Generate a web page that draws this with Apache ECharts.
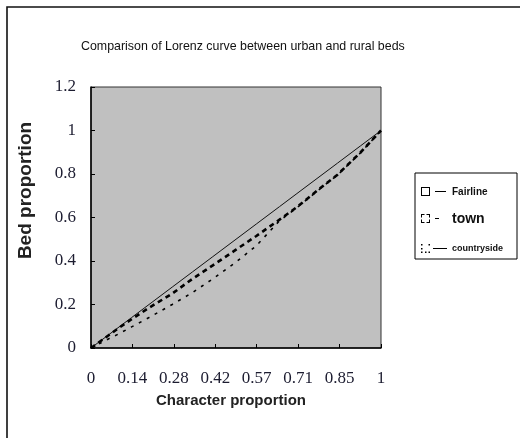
<!DOCTYPE html>
<html>
<head>
<meta charset="utf-8">
<script src="https://cdn.jsdelivr.net/npm/echarts@6/dist/echarts.min.js"></script>
<style>html,body{margin:0;padding:0;background:#fff}#c{width:520px;height:438px}</style>
</head>
<body>
<div id="c"></div>
<script>
// ---- data ----
const chartTitle = 'Comparison of Lorenz curve between urban and rural beds';
const xName = 'Character proportion';
const yName = 'Bed proportion';
const seriesNames = ['Fairline', 'town', 'countryside'];
const charProportion = [0, 0.05, 0.1, 0.14, 0.2, 0.28, 0.35, 0.42, 0.5, 0.57, 0.65, 0.71, 0.8, 0.85, 0.93, 1];
const fairline    = [0, 0.05, 0.1, 0.14, 0.2, 0.28, 0.35, 0.42, 0.5, 0.57, 0.65, 0.71, 0.8, 0.85, 0.93, 1];
const town        = [0, 0.048, 0.096, 0.132, 0.185, 0.25, 0.318, 0.38, 0.452, 0.515, 0.59, 0.648, 0.745, 0.797, 0.9, 1];
const countryside = [0, 0.035, 0.068, 0.097, 0.14, 0.2, 0.255, 0.318, 0.395, 0.47, 0.585, 0.645, 0.743, 0.795, 0.898, 1];
const xTickValues = [0, 0.142857, 0.285714, 0.428571, 0.571429, 0.714286, 0.857143, 1];
const xTickLabels = ['0', '0.14', '0.28', '0.42', '0.57', '0.71', '0.85', '1'];

const pairs = ys => charProportion.map((x, i) => [x, ys[i]]);
const labelFor = v => {
  let best = 0;
  xTickValues.forEach((t, i) => { if (Math.abs(t - v) < Math.abs(xTickValues[best] - v)) best = i; });
  return xTickLabels[best];
};

const F = 'M0,0M26,10';
const icons = {
  Fairline: 'path://' + F + 'M0,0H9V9H0Z M1,1V8H8V1Z M14,4H25V5H14Z',
  town: 'path://' + F + 'M0,0H3.5V1H1V3.5H0Z M5.5,0H9V3.5H8V1H5.5Z M0,5.5H1V8H3.5V9H0Z M8,5.5H9V9H5.5V8H8Z M14,4H18V5H14Z',
  countryside: 'path://' + F + 'M0,0H1.5V1.5H0Z M0,4H1.5V5.5H0Z M0,7.5H1.5V9H0Z M7.5,0H9V1.5H7.5Z M7.5,7.5H9V9H7.5Z M4,7.5H5.5V9H4Z M12,4H26V5H12Z'
};
const legendText = {
  Fairline: {fontSize: 10, fontWeight: 'bold', lineHeight: 14},
  town: {fontSize: 14, fontWeight: 'bold', lineHeight: 14},
  countryside: {fontSize: 9, fontWeight: 'bold', lineHeight: 14, padding: [6, 0, 0, 0]}
};

const chart = echarts.init(document.getElementById('c'), null, {renderer: 'canvas'});
chart.setOption({
  animation: false,
  backgroundColor: '#fff',
  textStyle: {fontFamily: 'Liberation Sans'},
  title: {
    text: chartTitle, left: 81, top: 41, padding: 0,
    textStyle: {fontFamily: 'Liberation Sans', fontSize: 12.4, fontWeight: 'normal', color: '#111'}
  },
  graphic: [{
    type: 'rect', silent: true, z: -10,
    shape: {x: 7, y: 7, width: 700, height: 700},
    style: {fill: 'none', stroke: '#111', lineWidth: 1.6}
  }],
  legend: {
    orient: 'vertical', left: 415, top: 173, padding: [12, 14, 0, 6],
    itemWidth: 26, itemHeight: 10, itemGap: 13, itemTextGap: 10,
    borderColor: '#000', borderWidth: 1, backgroundColor: '#fff',
    textStyle: {color: '#111', fontFamily: 'Liberation Sans'},
    data: seriesNames.map(n => ({
      name: n, icon: icons[n],
      itemStyle: {color: '#000', borderWidth: 0},
      textStyle: legendText[n]
    }))
  },
  grid: {
    left: 91, top: 87, width: 290, height: 261, show: true,
    backgroundColor: '#c0c0c0', borderColor: '#333', borderWidth: 1
  },
  xAxis: {
    type: 'value', min: 0, max: 1,
    name: xName, nameLocation: 'middle', nameGap: 45,
    nameTextStyle: {fontFamily: 'Liberation Sans', fontWeight: 'bold', fontSize: 15, color: '#222', padding: [0, 10, 0, 0]},
    axisLine: {show: true, onZero: false, lineStyle: {color: '#000', width: 1.5}},
    axisTick: {show: true, inside: true, length: 4, customValues: xTickValues, lineStyle: {color: '#000'}},
    axisLabel: {
      customValues: xTickValues, margin: 22, formatter: v => labelFor(v),
      fontFamily: 'Liberation Serif', fontSize: 17, color: '#1c1c30'
    },
    splitLine: {show: false}
  },
  yAxis: {
    type: 'value', min: 0, max: 1.2, interval: 0.2,
    name: yName, nameLocation: 'middle', nameGap: 56, nameRotate: 90,
    nameTextStyle: {fontFamily: 'Liberation Sans', fontWeight: 'bold', fontSize: 19, color: '#222', padding: [0, 0, 0, 54]},
    axisLine: {show: true, lineStyle: {color: '#000', width: 1.5}},
    axisTick: {show: true, inside: true, length: 4, lineStyle: {color: '#000'}},
    axisLabel: {margin: 15, fontFamily: 'Liberation Serif', fontSize: 17, color: '#1c1c30'},
    splitLine: {show: false}
  },
  series: [
    {name: 'Fairline', type: 'line', data: pairs(fairline), showSymbol: false, symbol: 'none',
     itemStyle: {color: '#000'}, lineStyle: {color: '#111', width: 1}, z: 3},
    {name: 'countryside', type: 'line', data: pairs(countryside), showSymbol: false, symbol: 'none',
     itemStyle: {color: '#000'}, lineStyle: {color: '#000', width: 1.6, type: [3, 6]}, z: 2},
    {name: 'town', type: 'line', data: pairs(town), showSymbol: false, symbol: 'none',
     itemStyle: {color: '#000'}, lineStyle: {color: '#000', width: 2.6, type: [5, 4]}, z: 4}
  ]
});
</script>
</body>
</html>
